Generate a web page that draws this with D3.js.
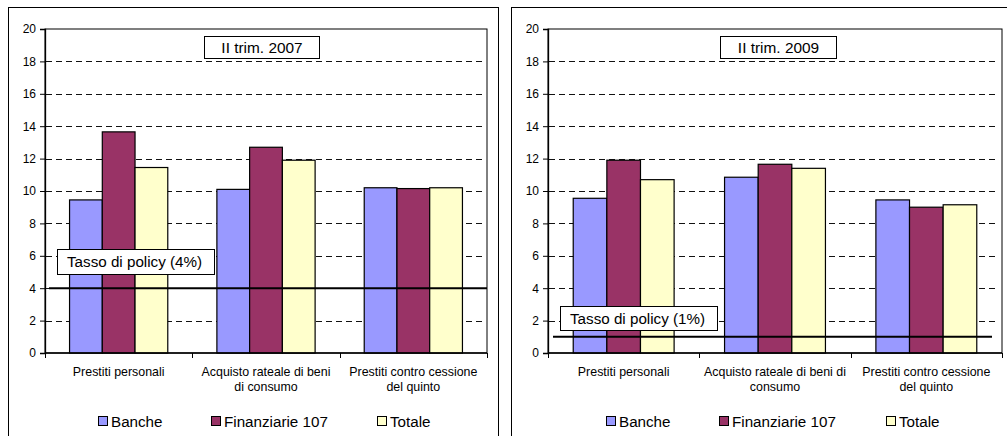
<!DOCTYPE html>
<html>
<head>
<meta charset="utf-8">
<script src="https://cdn.jsdelivr.net/npm/d3@7"></script>
<style>
  html, body { margin: 0; padding: 0; background: #fff; }
  svg { display: block; font-family: "Liberation Sans", Arial, sans-serif; }
</style>
</head>
<body>
<svg id="chart" width="1007" height="436"></svg>
<script>
// Categories (label lines as printed under each group)
const categories = ["Prestiti personali", "Acquisto rateale di beni di consumo", "Prestiti contro cessione del quinto"];
const labelLines2007 = [["Prestiti personali"], ["Acquisto rateale di beni", "di consumo"], ["Prestiti contro cessione", "del quinto"]];
const labelLines2009 = [["Prestiti personali"], ["Acquisto rateale di beni di", "consumo"], ["Prestiti contro cessione", "del quinto"]];

const seriesNames = ["Banche", "Finanziarie 107", "Totale"];
const seriesColors = ["#9999FF", "#993366", "#FFFFCC"];

// Rates (%) – II trim. 2007
const banche2007 = [9.45, 10.1, 10.2];
const finanziarie2007 = [13.65, 12.7, 10.15];
const totale2007 = [11.45, 11.9, 10.2];
const policy2007 = 4;

// Rates (%) – II trim. 2009
const banche2009 = [9.55, 10.85, 9.45];
const finanziarie2009 = [11.9, 11.65, 9.0];
const totale2009 = [10.7, 11.4, 9.15];
const policy2009 = 1;

const yTicks = [0, 2, 4, 6, 8, 10, 12, 14, 16, 18, 20];

const FONT = "'Liberation Sans', Arial, sans-serif";
const svg = d3.select("#chart");
svg.append("rect").attr("width", 1007).attr("height", 436).attr("fill", "#fff");

function drawPanel(opt) {
  const g = svg.append("g").attr("font-family", FONT);
  // outer frame
  g.append("rect")
    .attr("x", opt.frame[0] + 0.5).attr("y", 7.5)
    .attr("width", opt.frame[1] - opt.frame[0]).attr("height", 440)
    .attr("fill", "#fff").attr("stroke", "#000").attr("stroke-width", 1);

  const left = opt.plot[0], right = opt.plot[1], top = 29, bottom = 353;

  const y = d3.scaleLinear().domain([0, 20]).range([bottom, top]);
  const x0 = d3.scaleBand().domain(categories).range([left, right]).padding(0);
  const bw = x0.bandwidth();
  // gap width 150% of a bar: band = 4.5 bars
  const x1 = d3.scaleBand().domain(seriesNames).range([bw * 0.75 / 4.5, bw - bw * 0.75 / 4.5]).padding(0);

  // plot area
  g.append("rect").attr("x", left).attr("y", top)
    .attr("width", right - left).attr("height", bottom - top)
    .attr("fill", "#fff").attr("stroke", "#000").attr("stroke-width", 1);

  // dashed gridlines
  g.append("g").selectAll("line")
    .data(yTicks.filter(t => t > 0 && t < 20))
    .join("line")
    .attr("x1", left + 1).attr("x2", right - 5)
    .attr("y1", d => Math.round(y(d)) + 0.5).attr("y2", d => Math.round(y(d)) + 0.5)
    .attr("stroke", "#111").attr("stroke-width", 1)
    .attr("stroke-dasharray", "6,4");

  // bars
  const rows = categories.map((c, i) => ({ c, vals: opt.series.map(s => s[i]) }));
  const grp = g.append("g").selectAll("g").data(rows).join("g")
    .attr("transform", d => `translate(${x0(d.c)},0)`);
  grp.selectAll("rect")
    .data(d => d.vals.map((v, j) => ({ v, name: seriesNames[j], color: seriesColors[j] })))
    .join("rect")
    .attr("x", d => x1(d.name))
    .attr("width", x1.bandwidth())
    .attr("y", d => y(d.v))
    .attr("height", d => y(0) - y(d.v))
    .attr("fill", d => d.color)
    .attr("stroke", "#000").attr("stroke-width", 1.2);

  // y axis
  const yAxis = d3.axisLeft(y).tickValues(yTicks).tickSize(5).tickPadding(4);
  const ya = g.append("g").attr("transform", `translate(${left},0)`).call(yAxis);
  ya.attr("font-family", FONT);
  ya.select(".domain").attr("stroke", "#000").attr("stroke-width", 1.3);
  ya.selectAll(".tick line").attr("stroke", "#000");
  ya.selectAll(".tick text").attr("font-size", 12).attr("fill", "#000");

  // x axis: ticks at band boundaries
  g.append("line").attr("x1", left).attr("x2", right)
    .attr("y1", bottom).attr("y2", bottom).attr("stroke", "#000").attr("stroke-width", 1.3);
  const bounds = categories.map(c => x0(c)).concat([right]);
  g.append("g").selectAll("line").data(bounds).join("line")
    .attr("x1", d => Math.round(d) + 0.5).attr("x2", d => Math.round(d) + 0.5)
    .attr("y1", bottom).attr("y2", bottom + 5)
    .attr("stroke", "#000");

  // category labels
  const lab = g.append("g").selectAll("text").data(categories).join("text")
    .attr("x", d => x0(d) + bw / 2)
    .attr("y", 375.5)
    .attr("text-anchor", "middle")
    .attr("font-size", 12.4).attr("fill", "#000");
  lab.each(function (d, i) {
    d3.select(this).selectAll("tspan").data(opt.labelLines[i]).join("tspan")
      .attr("x", x0(d) + bw / 2)
      .attr("dy", (t, k) => k === 0 ? 0 : 15)
      .text(t => t);
  });

  // policy rate line
  g.append("line")
    .attr("x1", opt.policyX[0]).attr("x2", opt.policyX[1])
    .attr("y1", y(opt.policy)).attr("y2", y(opt.policy))
    .attr("stroke", "#000").attr("stroke-width", 2);

  // policy label box
  const pb = opt.policyBox;
  g.append("rect").attr("x", pb[0] + 0.5).attr("y", pb[1] + 0.5)
    .attr("width", pb[2]).attr("height", pb[3])
    .attr("fill", "#fff").attr("stroke", "#000");
  g.append("text").attr("x", pb[0] + 10).attr("y", pb[1] + 17.5)
    .attr("font-size", 15.2).attr("fill", "#000")
    .text(`Tasso di policy (${opt.policy}%)`);

  // period title box
  const tb = opt.titleBox;
  g.append("rect").attr("x", tb[0] + 0.5).attr("y", 36.5)
    .attr("width", tb[1] - tb[0]).attr("height", 22)
    .attr("fill", "#fff").attr("stroke", "#000");
  g.append("text").attr("x", (tb[0] + tb[1]) / 2 + 0.5).attr("y", 52.5)
    .attr("text-anchor", "middle").attr("font-size", 15.4).attr("fill", "#000")
    .text(opt.title);

  // legend
  const lg = g.append("g").selectAll("g").data(seriesNames).join("g")
    .attr("transform", (d, i) => `translate(${opt.legendX[i]},416)`);
  lg.append("rect").attr("x", 0.5).attr("y", 0.5).attr("width", 9).attr("height", 9)
    .attr("fill", (d, i) => seriesColors[i]).attr("stroke", "#000");
  lg.append("text").attr("x", 13).attr("y", 10.5)
    .attr("font-size", 15.2).attr("fill", "#000").text(d => d);
}

drawPanel({
  frame: [8, 498],
  plot: [45, 487],
  series: [banche2007, finanziarie2007, totale2007],
  labelLines: labelLines2007,
  policy: policy2007,
  policyX: [49, 487],
  policyBox: [57, 249, 157, 25],
  titleBox: [204, 319],
  title: "II trim. 2007",
  legendX: [98, 211, 377]
});

drawPanel({
  frame: [511, 1012],
  plot: [548, 1002],
  series: [banche2009, finanziarie2009, totale2009],
  labelLines: labelLines2009,
  policy: policy2009,
  policyX: [553, 992],
  policyBox: [560, 306, 157, 24],
  titleBox: [720, 836],
  title: "II trim. 2009",
  legendX: [606, 719, 886]
});
</script>
</body>
</html>
